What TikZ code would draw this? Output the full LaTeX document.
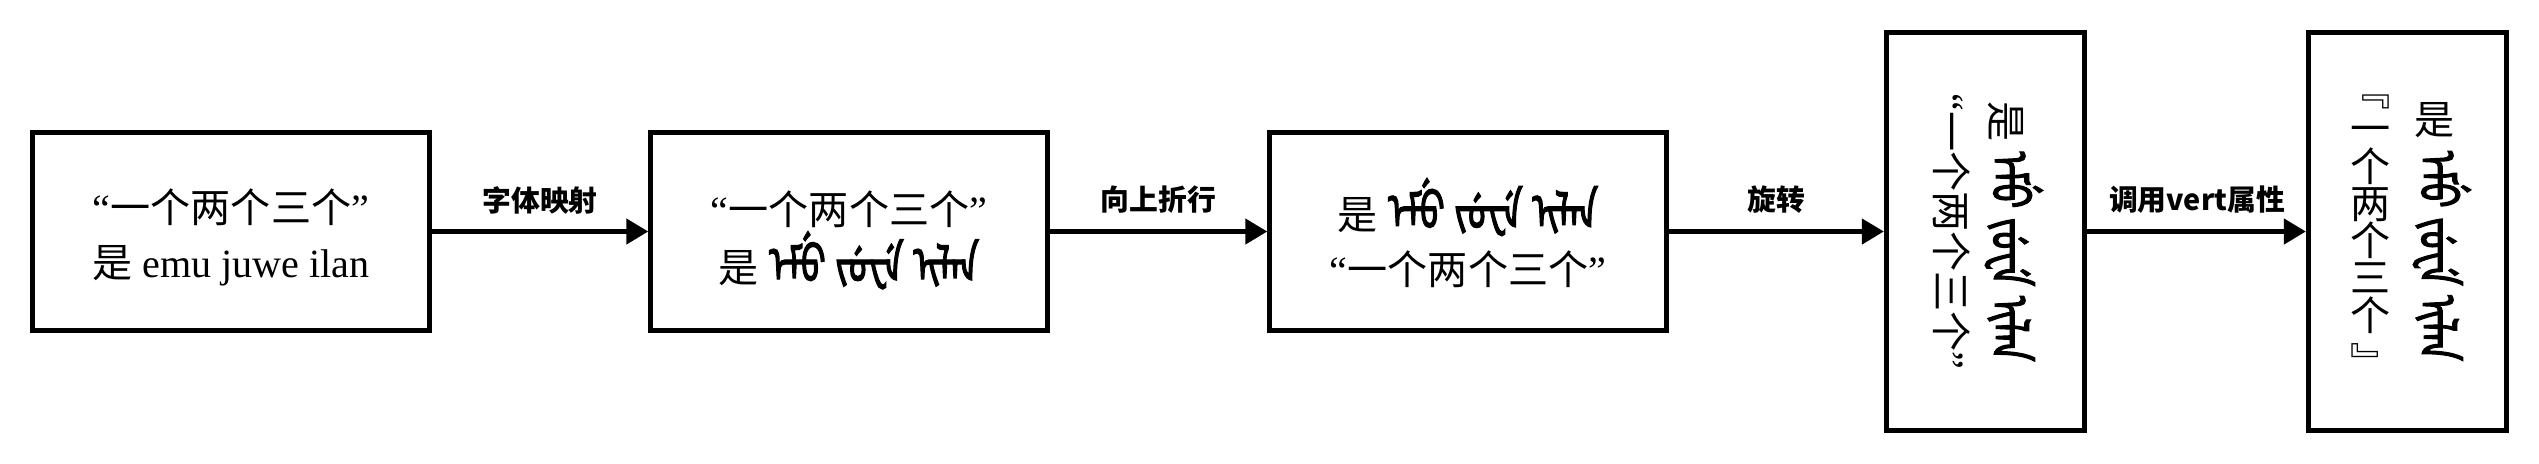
\documentclass[tikz,border=0pt]{standalone}
\usepackage{fontspec}
\usetikzlibrary{arrows.meta}
\setmainfont{Liberation Serif}
\IfFontExistsTF{FandolSong-Regular.otf}
  {\newfontfamily\cjk{FandolSong-Regular.otf}}
  {\newfontfamily\cjk{Noto Sans CJK SC}}
\newfontfamily\cjksans{Noto Sans CJK SC}
\newfontfamily\lab{Noto Sans CJK SC}
\IfFontExistsTF{Noto Sans Mongolian}
  {\newfontfamily\manchu[Script=Mongolian,FakeBold=2.2,FakeStretch=0.7]{Noto Sans Mongolian}\def\mwords{{\manchu\fontsize{14.8pt}{15.6pt}\selectfont ^^^^185d^^^^182e^^^^1860 ^^^^1835^^^^1860^^^^1838^^^^185d ^^^^1873^^^^182f^^^^1820^^^^1828}}}
  {\def\mwords{{\color{red}NO MONGOLIAN FONT}}}
\newcommand\qnum{{\rmfamily “}{\cjk 一个两个三个}{\rmfamily ”}}
\newcommand\shi{{\cjk 是}}
\begin{document}
\begin{tikzpicture}[x=0.01cm,y=-0.01cm]
\useasboundingbox (0,0) rectangle (2539,463);
\tikzset{
 box/.style={draw, line width=1.4pt, minimum width=3.96cm, minimum height=1.97cm, inner sep=0},
 tallbox/.style={draw, line width=1.4pt, minimum width=1.98cm, minimum height=3.97cm, inner sep=0},
 conn/.style={line width=1.7pt, -{Triangle[length=6.3pt,width=7pt]}},
 lbl/.style={font=\lab\bfseries\fontsize{8.2pt}{10pt}\selectfont, inner sep=0},
 txt/.style={align=center, inner sep=0, font=\fontsize{11.4pt}{15.6pt}\selectfont},
 col/.style={align=center, inner sep=0, font=\cjk\fontsize{11.4pt}{10.6pt}\selectfont},
 qmark/.style={inner sep=0, font=\cjksans\fontsize{11.4pt}{12pt}\selectfont},
}
\node[box] (b1) at (231,231.5) {};
\node[box] (b2) at (849,231.5) {};
\node[box] (b3) at (1468,231.5) {};
\node[tallbox] (b4) at (1985.5,231.5) {};
\node[tallbox] (b5) at (2407.5,231.5) {};
\node[txt] (t1) at (231,237) {\qnum\\ \shi\ emu juwe ilan};
\node[txt] (t2) at (849,240) {\qnum\\ \shi\ \mwords};
\node[txt] (t3) at (1468,233) {\shi\ \mwords\\ \qnum};
\node[txt, rotate=-90] (t4) at (1988,231.5) {\shi\ \mwords\\ \qnum};
\node[col] (c5) at (2371,230) {一\\个\\两\\个\\三\\个};
\node[qmark] (qa) at (2371,101.5) {﹃};
\node[qmark] (qb) at (2371,360.5) {﹄};
\node[txt] (s5) at (2435,120) {\shi};
\node[txt, rotate=-90] (m5) at (2442,256) {\mwords};
\draw[conn] (b1) -- (b2);
\draw[conn] (b2) -- (b3);
\draw[conn] (b3) -- (b4);
\draw[conn] (b4) -- (b5);
\node[lbl] (l1) at (540,200) {字体映射};
\node[lbl] (l2) at (1158.5,200) {向上折行};
\node[lbl] (l3) at (1776,200) {旋转};
\node[lbl] (l4) at (2197,200) {调用vert属性};
\end{tikzpicture}
\end{document}
